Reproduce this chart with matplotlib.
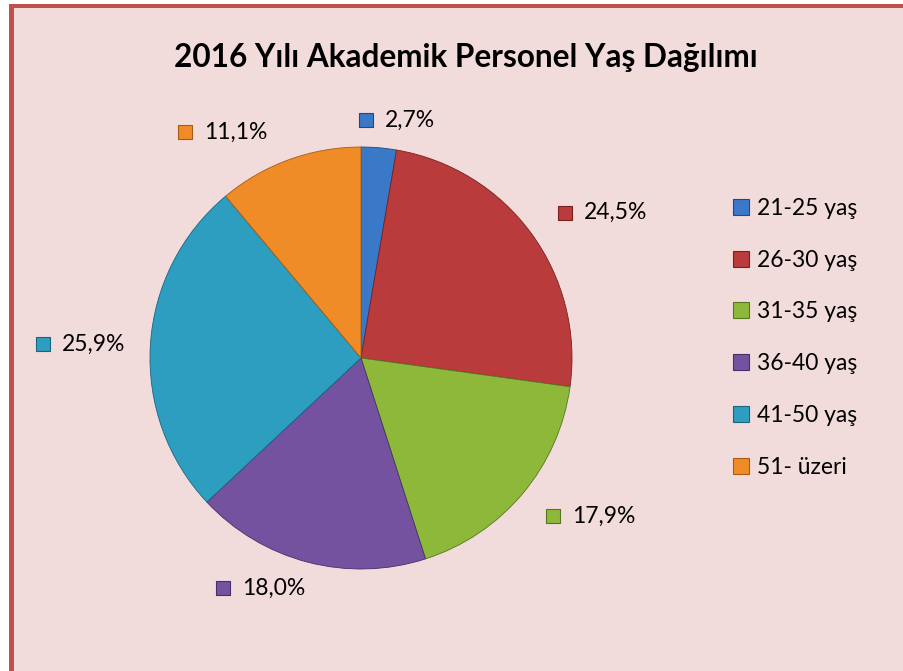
import matplotlib.pyplot as plt
import numpy as np
from matplotlib.patches import Rectangle, Patch

plt.rcParams['font.family'] = ['Lato', 'DejaVu Sans']

title = "2016 Yılı Akademik Personel Yaş Dağılımı"
categories = ['21-25 yaş', '26-30 yaş', '31-35 yaş', '36-40 yaş', '41-50 yaş', '51- üzeri']
values = [2.7, 24.5, 17.9, 18.0, 25.9, 11.1]
value_labels = ['2,7%', '24,5%', '17,9%', '18,0%', '25,9%', '11,1%']
colors = ['#3A78C8', '#B93B3B', '#8DB83A', '#7552A0', '#2E9EC0', '#F08C28']
edge_colors = ['#1F4A80', '#7A2020', '#56761F', '#45306A', '#1A6580', '#A85A10']

# label placement (radius factor, angle tweak in degrees)
label_r = [1.139, 1.301, 1.288, 1.208, 1.371, 1.277]
label_dang = [-3.3, -4.3, 4.5, -10.8, 0.8, 13.0]

W, H = 904, 671
fig = plt.figure(figsize=(W / 100, H / 100), dpi=100)
fig.patch.set_facecolor('#F2DCDB')

# red border on left/top, white outside
fig.patches.append(Rectangle((0, 0), 9 / W, 1, transform=fig.transFigure,
                             facecolor='white', edgecolor='none', zorder=0))
fig.patches.append(Rectangle((0, 1 - 4 / H), 1, 4 / H, transform=fig.transFigure,
                             facecolor='white', edgecolor='none', zorder=0))
fig.patches.append(Rectangle((9 / W, 0), 5 / W, 1 - 4 / H, transform=fig.transFigure,
                             facecolor='#C0504D', edgecolor='none', zorder=0))
fig.patches.append(Rectangle((9 / W, 1 - 8 / H), 1, 4 / H, transform=fig.transFigure,
                             facecolor='#C0504D', edgecolor='none', zorder=0))

fig.text(466 / W, 1 - 58 / H, title, ha='center', va='center',
         fontsize=22.7, fontweight='bold', color='black')

cx, cy, r = 361, 358, 211
ax = fig.add_axes([(cx - 1.5 * r) / W, (H - cy - 1.5 * r) / H, 3 * r / W, 3 * r / H])
ax.set_zorder(2)
ax.patch.set_visible(False)

wedges, _ = ax.pie(values, colors=colors, startangle=90, counterclock=False,
                   radius=1.0, wedgeprops=dict(linewidth=0.6))
for w, ec in zip(wedges, edge_colors):
    w.set_edgecolor(ec)

ax.set_xlim(-1.5, 1.5)
ax.set_ylim(-1.5, 1.5)
ax.set_aspect('equal')
ax.axis('off')

px = 1.0 / r
for w, lab, col, ec, rf, da in zip(wedges, value_labels, colors, edge_colors, label_r, label_dang):
    ang = np.deg2rad((w.theta1 + w.theta2) / 2 + da)
    x, y = rf * np.cos(ang), rf * np.sin(ang)
    ax.scatter([x - 29 * px], [y], marker='s', s=90, color=col, edgecolors=ec,
               linewidths=0.8, zorder=5, clip_on=False)
    ax.text(x - 10 * px, y, lab, ha='left', va='center', fontsize=16.5, color='black')

handles = [Patch(facecolor=c, edgecolor=e, linewidth=0.8) for c, e in zip(colors, edge_colors)]
leg = fig.legend(handles, categories, loc='upper left', bbox_to_anchor=(733 / W, 1 - 198 / H),
                 frameon=False, fontsize=16.5, handlelength=0.7, handleheight=0.7,
                 handletextpad=0.35, labelspacing=1.34, borderpad=0, borderaxespad=0)
leg.set_zorder(3)

fig.savefig('out.png', dpi=100, facecolor=fig.get_facecolor())
